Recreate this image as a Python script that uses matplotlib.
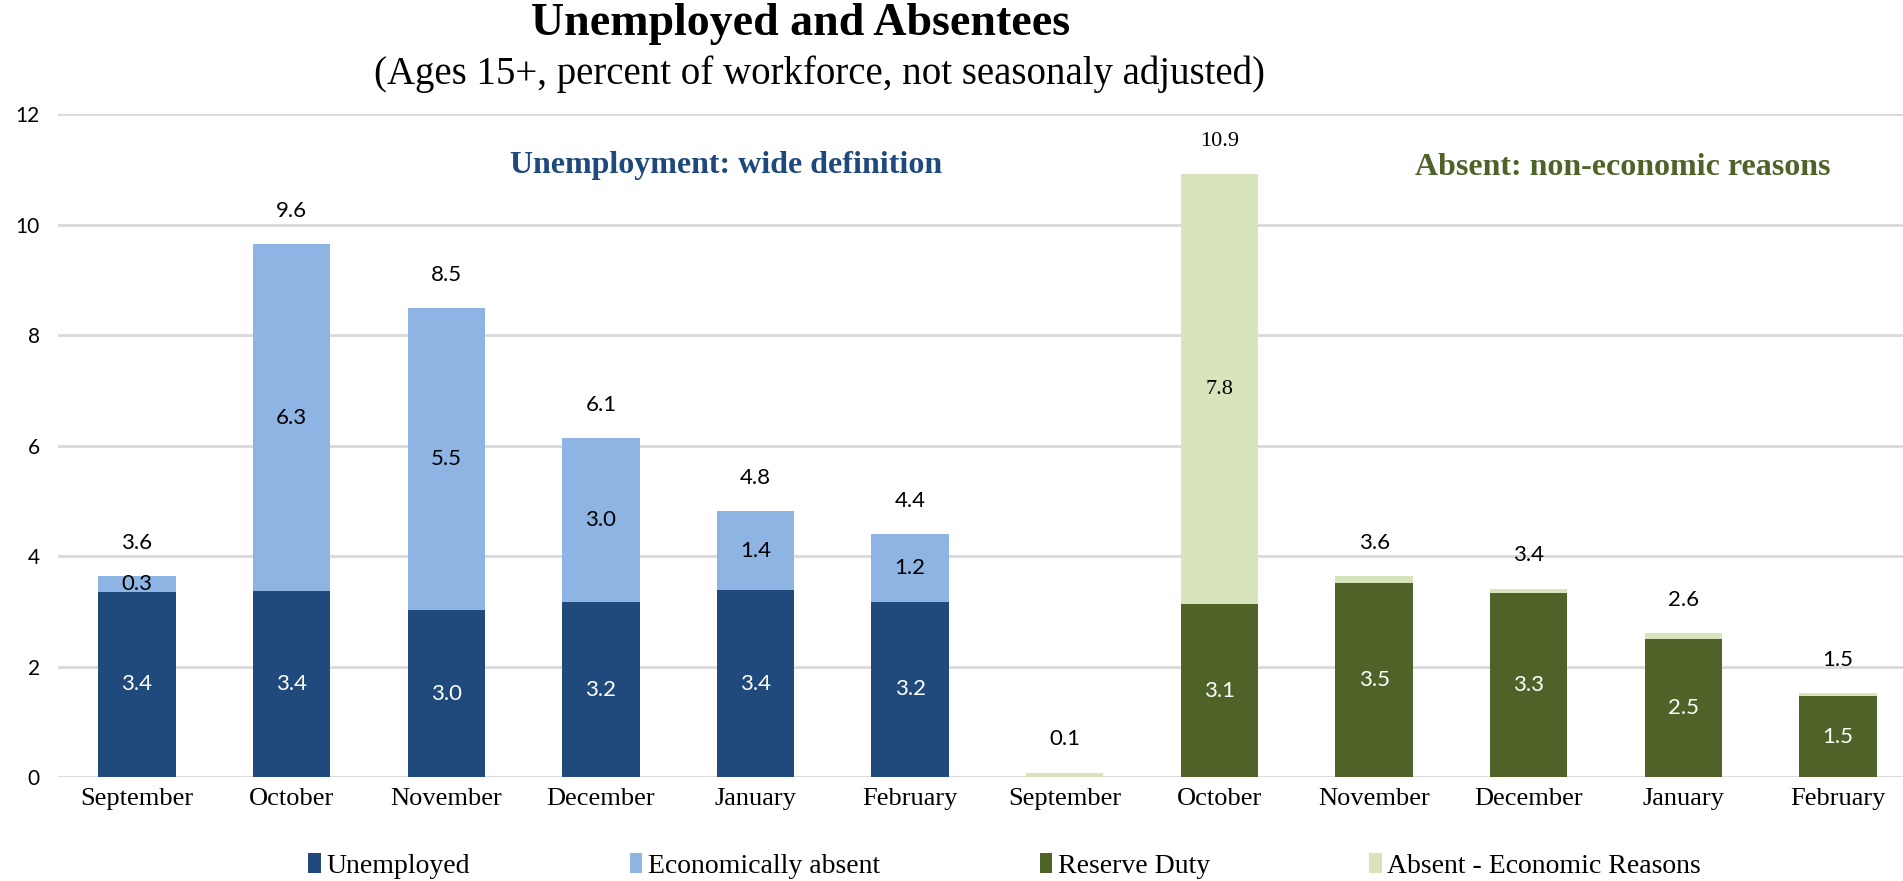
import matplotlib
matplotlib.use("Agg")
import matplotlib.pyplot as plt
import numpy as np

months = ["September", "October", "November", "December", "January", "February"]
categories = months + months

unemployed = [3.35, 3.37, 3.02, 3.16, 3.38, 3.17]
econ_absent = [0.28, 6.27, 5.46, 2.98, 1.43, 1.22]
reserve_duty = [0.0, 3.13, 3.52, 3.33, 2.49, 1.46]
absent_econ = [0.08, 7.78, 0.12, 0.08, 0.11, 0.06]

title = "Unemployed and Absentees"
subtitle = "(Ages 15+, percent of workforce, not seasonaly adjusted)"
left_note = "Unemployment: wide definition"
right_note = "Absent: non-economic reasons"

c_unemp = "#214A7C"
c_econ = "#8EB4E3"
c_res = "#4F6228"
c_abs = "#D8E4BC"

serif = "Liberation Serif"
sans = "Lato"

fig = plt.figure(figsize=(19.03, 8.81), dpi=100)
ax = fig.add_axes([0.0305, 0.118, 0.9695, 0.7526])

n = len(months)
xl = np.arange(n)
xr = np.arange(n, 2 * n)
w = 0.5

b1 = ax.bar(xl, unemployed, w, color=c_unemp, label="Unemployed", zorder=3)
b2 = ax.bar(xl, econ_absent, w, bottom=unemployed, color=c_econ, label="Economically absent", zorder=3)
b3 = ax.bar(xr, reserve_duty, w, color=c_res, label="Reserve Duty", zorder=3)
b4 = ax.bar(xr, absent_econ, w, bottom=reserve_duty, color=c_abs, label="Absent - Economic Reasons", zorder=3)

lab_fs = 16
for i in range(n):
    # left group
    ax.text(xl[i], unemployed[i] / 2, f"{unemployed[i]:.1f}", ha="center", va="center",
            color="white", fontsize=lab_fs, family=sans, zorder=4)
    ax.text(xl[i], unemployed[i] + econ_absent[i] / 2, f"{econ_absent[i]:.1f}", ha="center", va="center",
            color="black", fontsize=lab_fs, family=sans, zorder=4)
    tot = unemployed[i] + econ_absent[i]
    ax.text(xl[i], tot + 0.6, f"{tot:.1f}", ha="center", va="center",
            color="black", fontsize=lab_fs, family=sans, zorder=4)
    # right group
    if reserve_duty[i] > 0:
        ax.text(xr[i], reserve_duty[i] / 2, f"{reserve_duty[i]:.1f}", ha="center", va="center",
                color="white", fontsize=lab_fs, family=sans, zorder=4)
    if absent_econ[i] > 1:
        ax.text(xr[i], reserve_duty[i] + absent_econ[i] / 2, f"{absent_econ[i]:.1f}", ha="center", va="center",
                color="black", fontsize=lab_fs, family=serif, zorder=4)
    tot = reserve_duty[i] + absent_econ[i]
    ax.text(xr[i], tot + 0.6, f"{tot:.1f}", ha="center", va="center",
            color="black", fontsize=lab_fs, family=serif if tot > 10 else sans, zorder=4)

ax.set_xlim(-0.51, 2 * n - 1 + 0.42)
ax.set_ylim(0, 12)
ax.set_yticks(range(0, 13, 2))
ax.set_xticks(np.arange(2 * n))
ax.set_xticklabels(categories, family=serif, fontsize=19)
for t in ax.get_yticklabels():
    t.set_family(sans)
    t.set_fontsize(15)
ax.tick_params(axis="both", length=0)
ax.tick_params(axis="y", pad=13)
ax.tick_params(axis="x", pad=8)
ax.grid(axis="y", color="#D9D9D9", linewidth=2, zorder=0)
for s in ax.spines.values():
    s.set_visible(False)

ax.text(3.81, 11.06, left_note, ha="center", va="center", color="#1F497D",
        fontsize=23, fontweight="bold", family=serif)
ax.text(9.61, 11.04, right_note, ha="center", va="center", color="#4F6228",
        fontsize=23, fontweight="bold", family=serif)

fig.text(0.4205, 1 - 24 / 881, title, ha="center", va="center", fontsize=33,
         fontweight="bold", family=serif)
fig.text(0.4305, 1 - 74 / 881, subtitle, ha="center", va="center", fontsize=28, family=serif)

handles = [b1, b2, b3, b4]
fig.legend(handles, [h.get_label() for h in handles], loc="center",
           bbox_to_anchor=(0.528, 1 - 866 / 881), ncol=4, frameon=False,
           prop={"family": serif, "size": 20}, handlelength=0.45, handleheight=0.75,
           handletextpad=0.2, columnspacing=5.75, borderaxespad=0)

fig.savefig("out.png", dpi=100)
